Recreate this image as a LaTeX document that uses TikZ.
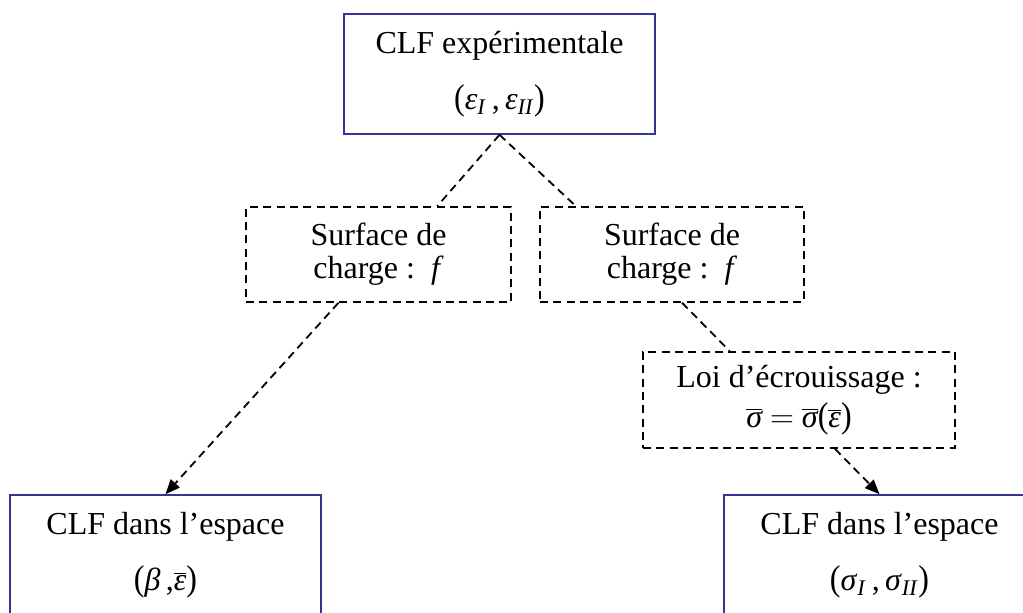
\documentclass[tikz,border=0pt]{standalone}
\usepackage{fontspec}
\setmainfont{Liberation Serif}
\usepackage{xcolor}
\usepackage{tikz}
\usetikzlibrary{arrows.meta,positioning}

\definecolor{clfblue}{RGB}{51,51,153}
\newcommand{\gk}[1]{\textit{#1}}
\newcommand{\barg}[1]{$\overline{\hbox{\itshape #1}}$}
\newcommand{\po}{\scalebox{1}[1.12]{(}}
\newcommand{\pf}{\scalebox{1}[1.12]{)}}

\begin{document}
\begin{tikzpicture}[
  x=0.75pt, y=-0.75pt,
  cadre/.style={rectangle, draw=clfblue, line width=1.2pt, minimum width=233pt, minimum height=90pt, align=center, inner sep=0pt, font=\fontsize{24}{42}\selectfont},
  tiret/.style={rectangle, draw, dashed, dash pattern=on 6pt off 4pt, line width=1.35pt, align=center, inner sep=0pt, font=\fontsize{24}{25}\selectfont},
  lien/.style={dashed, dash pattern=on 6pt off 4pt, line width=1.35pt},
  fleche/.style={lien, -{Triangle[length=11pt,width=9pt]}}
]
  \useasboundingbox (0,0) rectangle (1023,612);

  % boites
  \node[cadre] (exp) at (499.5,74) {CLF expérimentale\\\po\gk{ε}\textsubscript{\gk{I}}\,,\,\gk{ε}\textsubscript{\gk{II}}\pf};
  \node[tiret, minimum width=199pt, minimum height=71pt] (surf1) at (378.5,254.5) {Surface de\\charge :\ \ \gk{f}};
  \node[tiret, minimum width=198pt, minimum height=71pt] (surf2) at (672,254.5) {Surface de\\charge :\ \ \gk{f}};
  \node[tiret, minimum width=234pt, minimum height=72pt, font=\fontsize{24}{30}\selectfont] (ecr) at (799,400) {Loi d’écrouissage :\\\barg{σ} $=$ \barg{σ}\po\barg{ε}\pf};
  \node[cadre] (beta) at (165.5,555) {CLF dans l’espace\\\po\gk{β}\,,\barg{ε}\pf};
  \node[cadre] (sig) at (879.5,555) {CLF dans l’espace\\\po\gk{σ}\textsubscript{\gk{I}}\,,\,\gk{σ}\textsubscript{\gk{II}}\pf};

  % liens
  \draw[lien] (exp.south) -- ([xshift=44pt]surf1.north);
  \draw[lien] (exp.south) -- ([xshift=-72pt]surf2.north);
  \draw[fleche] ([xshift=-30pt]surf1.south) -- (beta.north);
  \draw[lien] ([xshift=7.5pt]surf2.south) -- ([xshift=-52pt]ecr.north);
  \draw[fleche] ([xshift=27pt]ecr.south) -- (sig.north);
\end{tikzpicture}
\end{document}
